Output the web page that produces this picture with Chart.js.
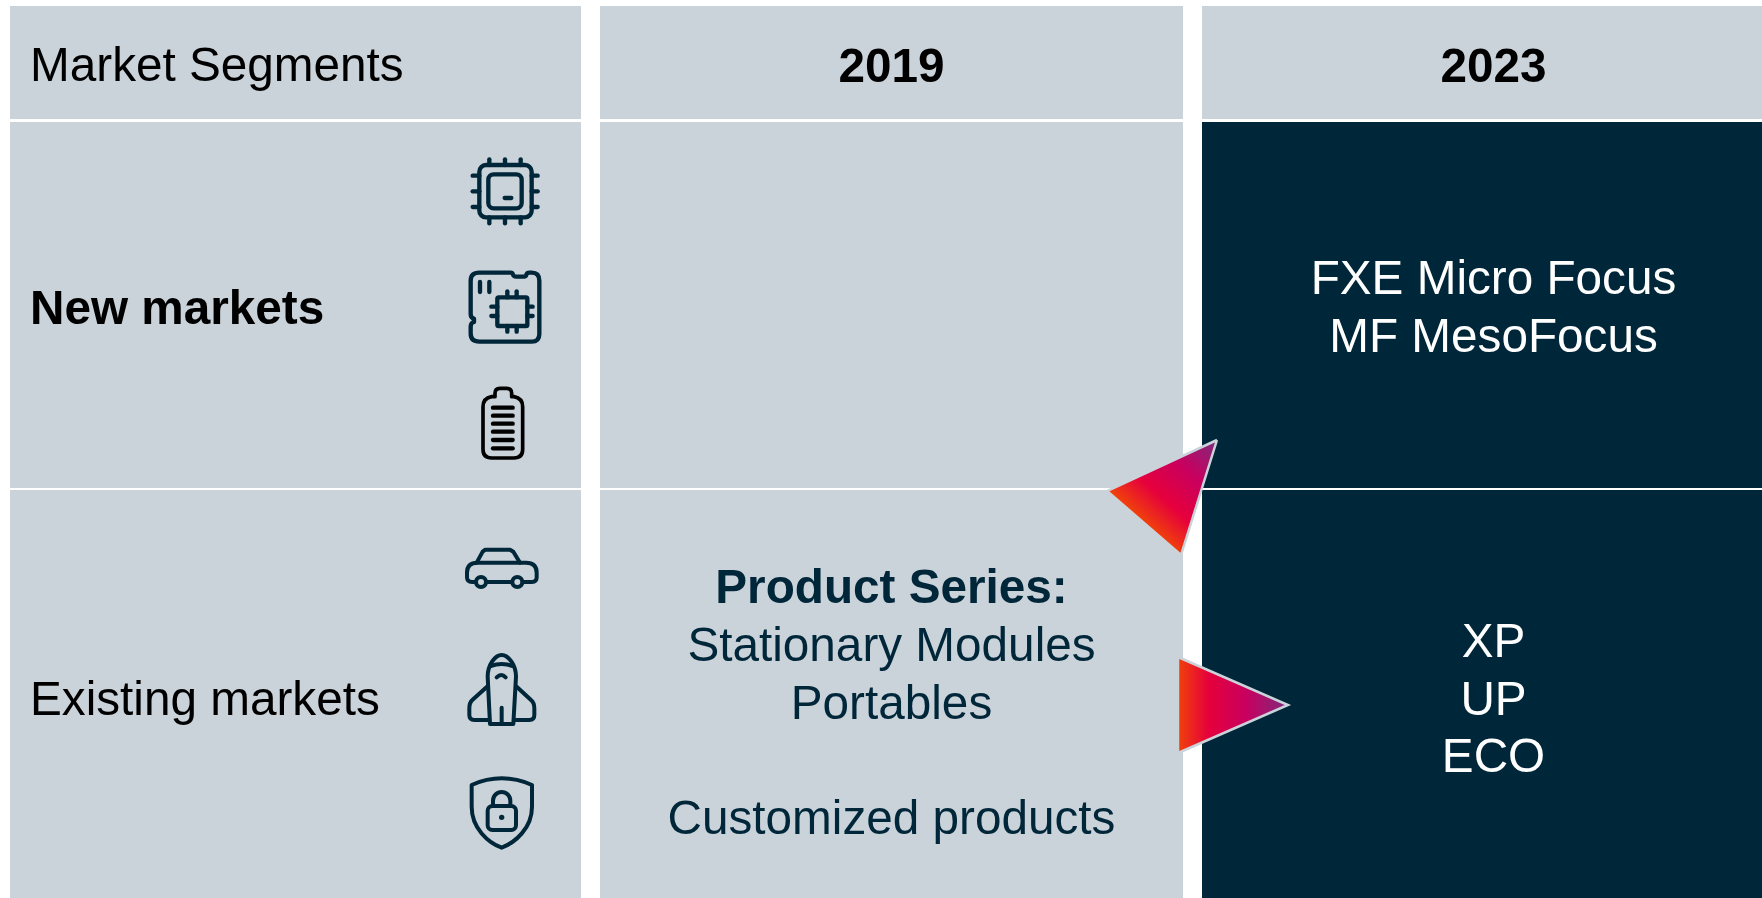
<!DOCTYPE html>
<html><head><meta charset="utf-8">
<style>html,body{margin:0;padding:0;background:#fff;overflow:hidden}#wrap{width:1762px;height:898px;position:relative}</style>
<script src="https://cdn.jsdelivr.net/npm/chart.js@4"></script>
</head><body><div id="wrap"><canvas id="c" width="1762" height="898"></canvas></div>
<script>
const columnLabels = ['Market Segments', '2019', '2023'];
const rowLabels = ['New markets', 'Existing markets'];
const columnEdges = [[10, 581], [600, 1183], [1202, 1785]];
const rowEdges = [[6, 119], [122, 488], [490, 898]];
const cellShades = [
  ['light', 'light', 'light'],
  ['light', 'light', 'dark'],
  ['light', 'light', 'dark']
];
const arrowDown = [[1217, 440], [1107, 491], [1181, 555], [1217, 440]];
const arrowRight = [[1178, 657], [1178, 753], [1288, 705], [1178, 657]];
const text2019 = [['Product Series:', 603, true], ['Stationary Modules', 661, false], ['Portables', 719, false], ['Customized products', 834, false]];
const text2023New = [['FXE Micro Focus', 294], ['MF MesoFocus', 352]];
const text2023Existing = [['XP', 657], ['UP', 715], ['ECO', 772]];

const LIGHT = '#CBD3DA', DARK = '#002639', FONT = '"Liberation Sans", Arial, sans-serif';
const ctx0 = document.getElementById('c').getContext('2d');

function grad(x0, y0, x1, y1) {
  const g = ctx0.createLinearGradient(x0, y0, x1, y1);
  g.addColorStop(0, '#F0420A');
  g.addColorStop(0.28, '#E6003C');
  g.addColorStop(0.62, '#C8005F');
  g.addColorStop(1, '#7E2B7C');
  return g;
}
const toPts = a => a.map(p => ({x: p[0], y: p[1]}));
const cellSets = [];
rowEdges.forEach((r, ri) => columnEdges.forEach((c, ci) => {
  const col = cellShades[ri][ci] === 'dark' ? DARK : LIGHT;
  cellSets.push({
    data: toPts([[c[0], r[0]], [c[1], r[0]], [c[1], r[1]], [c[0], r[1]], [c[0], r[0]]]),
    showLine: true, fill: 'shape', backgroundColor: col, borderWidth: 0, borderColor: col, pointRadius: 0, tension: 0, order: 10
  });
}));
const triSet = (pts, g) => ({
  data: toPts(pts), showLine: true, fill: 'shape', backgroundColor: g, borderColor: LIGHT,
  borderWidth: 2.5, pointRadius: 0, tension: 0, order: 1
});

function icons(ctx) {
  const L = (pts, close) => { ctx.beginPath(); pts.forEach((p, i) => i ? ctx.lineTo(p[0], p[1]) : ctx.moveTo(p[0], p[1])); if (close) ctx.closePath(); ctx.stroke(); };
  const RR = (x, y, w, h, r) => { ctx.beginPath(); ctx.roundRect(x, y, w, h, r); ctx.stroke(); };
  ctx.save();
  ctx.lineCap = 'round'; ctx.lineJoin = 'round';
  ctx.save(); ctx.translate(440, 130); ctx.scale(1 / 3, 1 / 3);
  ctx.strokeStyle = DARK; ctx.lineWidth = 13;
  RR(118, 105, 157, 157, 20); RR(145, 133, 100, 102, 16);
  L([[194, 204], [214, 204]]);
  [148, 195, 242].forEach(x => { L([[x, 88], [x, 105]]); L([[x, 262], [x, 280]]); });
  [137, 184, 231].forEach(y => { L([[98, y], [118, y]]); L([[275, y], [293, y]]); });
  // board
  ctx.beginPath();
  ctx.moveTo(118, 428); ctx.lineTo(212, 428); ctx.quadraticCurveTo(218, 428, 219, 434);
  ctx.quadraticCurveTo(221, 440, 228, 440); ctx.lineTo(252, 440); ctx.quadraticCurveTo(258, 440, 259, 434);
  ctx.quadraticCurveTo(261, 428, 268, 428); ctx.lineTo(275, 428); ctx.quadraticCurveTo(298, 428, 298, 452);
  ctx.lineTo(298, 612); ctx.quadraticCurveTo(298, 635, 275, 635); ctx.lineTo(118, 635);
  ctx.quadraticCurveTo(92, 635, 92, 610); ctx.lineTo(92, 590); ctx.quadraticCurveTo(92, 578, 102, 576);
  ctx.lineTo(102, 566); ctx.quadraticCurveTo(92, 564, 92, 552); ctx.lineTo(92, 452); ctx.quadraticCurveTo(92, 428, 118, 428);
  ctx.closePath(); ctx.stroke();
  L([[120, 456], [120, 486]]); L([[148, 456], [148, 486]]);
  RR(172, 502, 90, 86, 4);
  [202, 230].forEach(x => { L([[x, 484], [x, 502]]); L([[x, 588], [x, 605]]); });
  [530, 558].forEach(y => { L([[154, y], [172, y]]); L([[262, y], [278, y]]); });
  // battery
  ctx.strokeStyle = '#000'; ctx.lineWidth = 11;
  ctx.beginPath();
  ctx.moveTo(165, 800); ctx.lineTo(165, 790); ctx.quadraticCurveTo(165, 775, 180, 775); ctx.lineTo(200, 775);
  ctx.quadraticCurveTo(215, 775, 215, 790); ctx.lineTo(215, 800); ctx.lineTo(222, 800);
  ctx.quadraticCurveTo(248, 805, 248, 830); ctx.lineTo(248, 958); ctx.quadraticCurveTo(248, 984, 222, 984);
  ctx.lineTo(155, 984); ctx.quadraticCurveTo(129, 984, 129, 958); ctx.lineTo(129, 830);
  ctx.quadraticCurveTo(129, 805, 155, 800); ctx.closePath(); ctx.stroke();
  ctx.lineWidth = 13;
  [833, 857, 881, 905, 930, 955].forEach(y => L([[159, y], [218, y]]));
  ctx.restore();

  ctx.save(); ctx.translate(440, 520); ctx.scale(1 / 3, 1 / 3);
  ctx.strokeStyle = DARK; ctx.lineWidth = 12;
  // car
  ctx.beginPath();
  ctx.moveTo(107, 186); ctx.lineTo(96, 186); ctx.quadraticCurveTo(81, 186, 81, 172); ctx.lineTo(81, 158);
  ctx.quadraticCurveTo(81, 128, 112, 128); ctx.lineTo(258, 128); ctx.quadraticCurveTo(290, 128, 290, 158);
  ctx.lineTo(290, 172); ctx.quadraticCurveTo(290, 186, 276, 186); ctx.lineTo(248, 186);
  ctx.moveTo(216, 186); ctx.lineTo(139, 186); ctx.stroke();
  L([[110, 128], [128, 95], [136, 89], [210, 89], [220, 95], [240, 128]]);
  [123, 232].forEach(x => { ctx.beginPath(); ctx.arc(x, 186, 15, 0, 7); ctx.stroke(); });
  // rocket
  ctx.beginPath();
  ctx.moveTo(150, 612); ctx.lineTo(143, 470); ctx.bezierCurveTo(143, 435, 165, 405, 185, 405);
  ctx.bezierCurveTo(205, 405, 228, 435, 228, 470); ctx.lineTo(220, 612); ctx.closePath(); ctx.stroke();
  ctx.beginPath(); ctx.moveTo(152, 438); ctx.quadraticCurveTo(185, 426, 218, 438); ctx.stroke();
  ctx.beginPath(); ctx.moveTo(170, 472); ctx.quadraticCurveTo(184, 458, 197, 472); ctx.stroke();
  L([[185, 563], [185, 610]]);
  ctx.beginPath(); ctx.moveTo(141, 500); ctx.lineTo(97, 540); ctx.quadraticCurveTo(88, 548, 88, 565); ctx.lineTo(88, 585);
  ctx.quadraticCurveTo(88, 600, 103, 600); ctx.lineTo(148, 600); ctx.stroke();
  ctx.beginPath(); ctx.moveTo(230, 500); ctx.lineTo(273, 540); ctx.quadraticCurveTo(283, 548, 283, 565); ctx.lineTo(283, 585);
  ctx.quadraticCurveTo(283, 600, 268, 600); ctx.lineTo(222, 600); ctx.stroke();
  // shield
  ctx.beginPath();
  ctx.moveTo(95, 795); ctx.quadraticCurveTo(185, 755, 276, 795); ctx.lineTo(276, 860);
  ctx.bezierCurveTo(276, 925, 225, 968, 185, 983); ctx.bezierCurveTo(145, 968, 95, 925, 95, 860); ctx.closePath(); ctx.stroke();
  RR(143, 858, 85, 72, 14);
  ctx.beginPath(); ctx.moveTo(159, 858); ctx.lineTo(159, 842); ctx.arc(185, 842, 26, Math.PI, 0); ctx.lineTo(211, 858); ctx.stroke();
  ctx.fillStyle = DARK; ctx.beginPath(); ctx.arc(185, 892, 8, 0, 7); ctx.fill();
  ctx.restore();
  ctx.restore();
}

const tablePlugin = {
  id: 'table',
  afterDatasetsDraw(chart) {
    const ctx = chart.ctx, xs = chart.scales.x, ys = chart.scales.y;
    const cx = i => xs.getPixelForValue((columnEdges[i][0] + columnEdges[i][1]) / 2);
    const put = (s, x, y, col, bold, align) => {
      ctx.font = (bold ? 'bold ' : '') + '47.7px ' + FONT;
      ctx.fillStyle = col; ctx.textAlign = align || 'center'; ctx.textBaseline = 'alphabetic';
      ctx.fillText(s, x, ys.getPixelForValue(y));
    };
    icons(ctx);
    const lx = xs.getPixelForValue(30);
    put(columnLabels[0], lx, 81, '#000', false, 'left');
    put(columnLabels[1], cx(1), 82, '#000', true);
    put(columnLabels[2], cx(2), 82, '#000', true);
    put(rowLabels[0], lx, 324, '#000', true, 'left');
    put(rowLabels[1], lx, 715, '#000', false, 'left');
    text2019.forEach(t => put(t[0], cx(1), t[1], DARK, t[2]));
    text2023New.forEach(t => put(t[0], cx(2), t[1], '#fff', false));
    text2023Existing.forEach(t => put(t[0], cx(2), t[1], '#fff', false));
  }
};

new Chart(ctx0, {
  type: 'scatter',
  data: { datasets: [...cellSets, triSet(arrowDown, grad(1143, 522, 1217, 440)), triSet(arrowRight, grad(1178, 705, 1288, 705))] },
  options: {
    responsive: false, animation: false, devicePixelRatio: 1,
    layout: { padding: 0 },
    plugins: { legend: { display: false }, tooltip: { enabled: false }, filler: { propagate: false }, table: {} },
    scales: {
      x: { type: 'linear', min: 0, max: 1762, display: false },
      y: { type: 'linear', min: 0, max: 898, reverse: true, display: false }
    }
  },
  plugins: [tablePlugin]
});
</script></body></html>
